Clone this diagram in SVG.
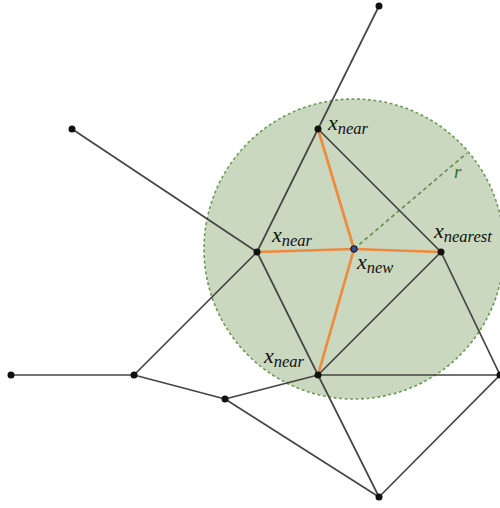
<svg xmlns="http://www.w3.org/2000/svg" width="500" height="508" viewBox="0 0 500 508">
<style>
.e{stroke:#454545;stroke-width:1.7;fill:none}
.o{stroke:#ee8a3c;stroke-width:2.7;fill:none;stroke-linecap:round}
.n{fill:#111}
text{font-family:"Liberation Serif","DejaVu Serif",serif;font-style:italic;fill:#111}
.x{font-size:22px}
.s{font-size:16.5px}
</style>
<g id="region">
<circle cx="354" cy="249" r="150" fill="#cad8c0" stroke="#6b9a55" stroke-width="1.6" stroke-dasharray="3,2.5"/>
<line x1="354" y1="249" x2="467" y2="153" stroke="#5e8f4c" stroke-width="1.6" stroke-dasharray="4,3"/>
<text x="454" y="178" font-size="19" style="fill:#2e6e3c">r</text>
</g>
<g id="connectors">
<line class="e" x1="379" y1="6" x2="318" y2="129"/>
<line class="e" x1="72" y1="129" x2="257" y2="252"/>
<line class="e" x1="318" y1="129" x2="257" y2="252"/>
<line class="e" x1="318" y1="129" x2="441" y2="252"/>
<line class="e" x1="257" y1="252" x2="134" y2="375"/>
<line class="e" x1="257" y1="252" x2="318" y2="375"/>
<line class="e" x1="441" y1="252" x2="318" y2="375"/>
<line class="e" x1="441" y1="252" x2="500" y2="375"/>
<line class="e" x1="318" y1="375" x2="500" y2="375"/>
<line class="e" x1="11" y1="375" x2="134" y2="375"/>
<line class="e" x1="134" y1="375" x2="225" y2="399"/>
<line class="e" x1="225" y1="399" x2="318" y2="375"/>
<line class="e" x1="225" y1="399" x2="379" y2="497"/>
<line class="e" x1="318" y1="375" x2="379" y2="497"/>
<line class="e" x1="379" y1="497" x2="500" y2="375"/>
<line class="o" x1="318" y1="129" x2="354" y2="249"/>
<line class="o" x1="257" y1="252" x2="354" y2="249"/>
<line class="o" x1="354" y1="249" x2="441" y2="252"/>
<line class="o" x1="318" y1="375" x2="354" y2="249"/>
</g>
<g id="n_top"><circle class="n" cx="379" cy="6" r="3.5"/></g>
<g id="n_left_top"><circle class="n" cx="72" cy="129" r="3.5"/></g>
<g id="x_near_top"><circle class="n" cx="318" cy="129" r="3.5"/>
<text x="328" y="130"><tspan class="x">x</tspan><tspan class="s" dy="3.5">near</tspan></text></g>
<g id="x_near_left"><circle class="n" cx="257" cy="252" r="3.5"/>
<text x="272" y="242"><tspan class="x">x</tspan><tspan class="s" dy="3.5">near</tspan></text></g>
<g id="x_new"><circle cx="354" cy="249" r="3.3" fill="#2f4f9c" stroke="#111" stroke-width="1"/>
<text x="357" y="269"><tspan class="x">x</tspan><tspan class="s" dy="3.5">new</tspan></text></g>
<g id="x_nearest"><circle class="n" cx="441" cy="252" r="3.5"/>
<text x="434" y="238"><tspan class="x">x</tspan><tspan class="s" dy="3.5">nearest</tspan></text></g>
<g id="x_near_bottom"><circle class="n" cx="318" cy="375" r="3.5"/>
<text x="264" y="363"><tspan class="x">x</tspan><tspan class="s" dy="3.5">near</tspan></text></g>
<g id="n_far_left"><circle class="n" cx="11" cy="375" r="3.5"/></g>
<g id="n_left"><circle class="n" cx="134" cy="375" r="3.5"/></g>
<g id="n_mid"><circle class="n" cx="225" cy="399" r="3.5"/></g>
<g id="n_bottom"><circle class="n" cx="379" cy="497" r="3.5"/></g>
<g id="n_right"><circle class="n" cx="500" cy="375" r="3.5"/></g>
</svg>
